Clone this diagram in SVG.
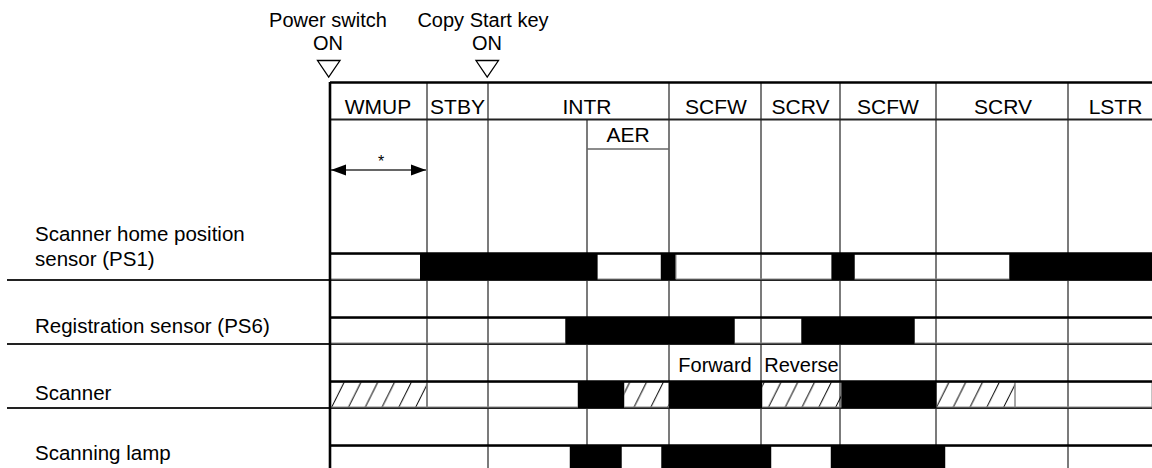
<svg xmlns="http://www.w3.org/2000/svg" width="1152" height="468" viewBox="0 0 1152 468">
<style>
text{font-family:"Liberation Sans",Arial,sans-serif;fill:#000}
.lbl{font-size:20.5px}
.hdr{font-size:21px;text-anchor:middle}
.sm{font-size:20px;text-anchor:middle}
.v{stroke:#5a5a5a;stroke-width:1.6;fill:none}
.sep{stroke:#222;stroke-width:2.2;fill:none}
.top{stroke:#000;stroke-width:2.6;fill:none}
.hi{fill:#000}
.lo{fill:none;stroke:#888;stroke-width:1}
.hat{fill:url(#hatch);stroke:#888;stroke-width:1}
.tri{fill:#fff;stroke:#000;stroke-width:1.3}
</style>
<defs>
<pattern id="hatch" patternUnits="userSpaceOnUse" x="331" y="381" width="16.8" height="27">
<line x1="0" y1="27.5" x2="14" y2="-0.5" stroke="#000" stroke-width="1"/>
</pattern>
<marker id="ah" markerUnits="userSpaceOnUse" markerWidth="16" markerHeight="12" refX="15" refY="6" orient="auto-start-reverse">
<path d="M0,0.5 L15,6 L0,11.5 Z" fill="#000"/>
</marker>
</defs>
<rect width="1152" height="468" fill="#fff"/>

<g id="events">
<text class="sm" x="328" y="27">Power switch</text>
<text class="sm" x="328" y="50">ON</text>
<polygon class="tri" points="317.5,60.5 340,60.5 328.7,77"/>
<text class="sm" x="483" y="27">Copy Start key</text>
<text class="sm" x="487" y="50">ON</text>
<polygon class="tri" points="476,60.5 498.5,60.5 487.2,77"/>
</g>

<g id="grid">
<line class="v" x1="427" y1="82" x2="427" y2="408"/>
<line class="v" x1="488" y1="82" x2="488" y2="468"/>
<line class="v" x1="587" y1="119" x2="587" y2="468"/>
<line class="v" x1="669" y1="82" x2="669" y2="468"/>
<line class="v" x1="761" y1="82" x2="761" y2="468"/>
<line class="v" x1="840" y1="82" x2="840" y2="468"/>
<line class="v" x1="936" y1="82" x2="936" y2="468"/>
<line class="v" x1="1068" y1="82" x2="1068" y2="468"/>
<line x1="587" y1="149" x2="669" y2="149" stroke="#666" stroke-width="1.6"/>
<line class="sep" x1="7" y1="280" x2="1152" y2="280"/>
<line class="sep" x1="7" y1="344" x2="1152" y2="344"/>
<line class="sep" x1="7" y1="408" x2="1152" y2="408"/>
</g>

<g id="header">
<line class="top" x1="330" y1="82.5" x2="1152" y2="82.5"/>
<line class="sep" x1="330" y1="119.5" x2="1152" y2="119.5"/>
<text class="hdr" x="378" y="114">WMUP</text>
<text class="hdr" x="457.5" y="114">STBY</text>
<text class="hdr" x="587" y="114">INTR</text>
<text class="hdr" x="716" y="114">SCFW</text>
<text class="hdr" x="800.5" y="114">SCRV</text>
<text class="hdr" x="888" y="114">SCFW</text>
<text class="hdr" x="1003" y="114">SCRV</text>
<text class="hdr" x="1115.5" y="114">LSTR</text>
<text class="hdr" x="628" y="142">AER</text>
<text x="381" y="167" font-size="16" text-anchor="middle">*</text>
</g>

<g id="connectors">
<line x1="331" y1="170" x2="426" y2="170" stroke="#333" stroke-width="1.6" marker-start="url(#ah)" marker-end="url(#ah)"/>
</g>

<g id="row-ps1">
<text class="lbl" x="35" y="241">Scanner home position</text>
<text class="lbl" x="35" y="266">sensor (PS1)</text>
<rect class="lo" x="330.5" y="254" width="90" height="25"/>
<rect class="lo" x="597" y="254" width="64" height="25"/>
<rect class="lo" x="676" y="254" width="156" height="25"/>
<rect class="lo" x="854.5" y="254" width="155" height="25"/>
<rect class="hi" x="420" y="253" width="177.5" height="27"/>
<rect class="hi" x="661" y="253" width="14.5" height="27"/>
<rect class="hi" x="831.5" y="253" width="23" height="27"/>
<rect class="hi" x="1009.5" y="253" width="143" height="27"/>
<line class="top" x1="330" y1="253.5" x2="1152" y2="253.5"/>
</g>

<g id="row-ps6">
<text class="lbl" x="35" y="333">Registration sensor (PS6)</text>
<rect class="lo" x="330.5" y="318" width="235" height="25"/>
<rect class="lo" x="734.5" y="318" width="67" height="25"/>
<rect class="lo" x="914.5" y="318" width="238" height="25"/>
<rect class="hi" x="565.5" y="317" width="169" height="27"/>
<rect class="hi" x="801.5" y="317" width="113" height="27"/>
<line class="top" x1="330" y1="317.5" x2="1152" y2="317.5"/>
</g>

<g id="row-scanner">
<text class="sm" x="715" y="372">Forward</text>
<text class="sm" x="801.5" y="372">Reverse</text>
<text class="lbl" x="35" y="400">Scanner</text>
<rect class="hat" x="330.5" y="382" width="96.5" height="25"/>
<rect class="lo" x="427" y="382" width="151" height="25"/>
<rect class="hat" x="624" y="382" width="45" height="25"/>
<rect class="hat" x="762" y="382" width="79.5" height="25"/>
<rect class="hat" x="936.5" y="382" width="78.5" height="25"/>
<rect class="lo" x="1015" y="382" width="137" height="25"/>
<rect class="hi" x="578" y="381" width="46" height="27"/>
<rect class="hi" x="669" y="381" width="93" height="27"/>
<rect class="hi" x="841.5" y="381" width="95" height="27"/>
<line class="top" x1="330" y1="381.5" x2="1152" y2="381.5"/>
</g>

<g id="row-lamp">
<text class="lbl" x="35" y="460">Scanning lamp</text>
<rect class="lo" x="330.5" y="446" width="239.5" height="30"/>
<rect class="lo" x="621.5" y="446" width="40" height="30"/>
<rect class="lo" x="771" y="446" width="60" height="30"/>
<rect class="lo" x="945" y="446" width="208" height="30"/>
<rect class="hi" x="570" y="445" width="51.5" height="24"/>
<rect class="hi" x="661.5" y="445" width="109.5" height="24"/>
<rect class="hi" x="831" y="445" width="114" height="24"/>
<line class="top" x1="330" y1="445.5" x2="1152" y2="445.5"/>
</g>

<line x1="330" y1="82" x2="330" y2="468" stroke="#000" stroke-width="2.6"/>
</svg>
